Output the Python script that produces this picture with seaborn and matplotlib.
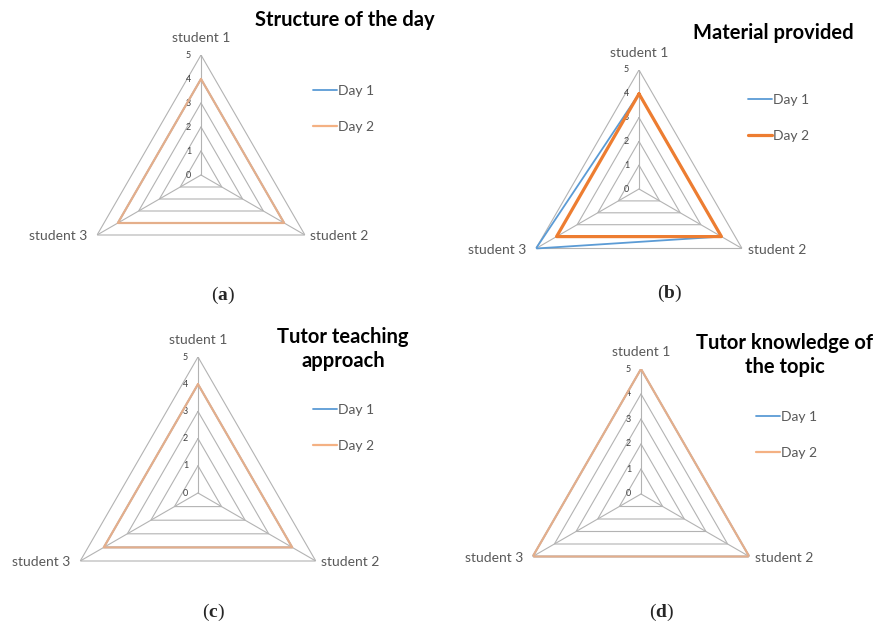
import numpy as np
import pandas as pd
import seaborn as sns
import matplotlib.pyplot as plt
from matplotlib.lines import Line2D

# Data -
students = ["student 1", "student 2", "student 3"]
days = ["Day 1", "Day 2"]
ticks = [0, 1, 2, 3, 4, 5]

titles = ["Structure of the day", "Material provided",
          "Tutor teaching\napproach", "Tutor knowledge of\nthe topic"]
captions = ["a", "b", "c", "d"]

day1_scores = [[4, 4, 4], [4, 4, 5], [4, 4, 4], [5, 5, 5]]
day2_scores = [[4, 4, 4], [4, 4, 4], [4, 4, 4], [5, 5, 5]]

# Layout (pixels: centre x, centre y, radius)
W, H = 878, 623
panels = [(201, 175, 120), (639, 189, 119), (198, 493, 136), (641, 494, 125)]
title_pos = [(345, 20), (773, 33), (343, 349), (785, 355)]
legend_pos = [(306, 109), (741, 118), (306, 428), (749, 435)]
caption_pos = [(223, 295), (670, 293), (213, 612), (662, 612)]

blue = "#5B9BD5"
orange_light = "#F4B183"
orange_dark = "#ED7D31"
day2_colors = [orange_light, orange_dark, orange_light, orange_light]
day2_widths = [1.6, 2.3, 1.6, 1.6]
grid_color = "#B3B3B3"
text_color = "#595959"

sns.set_theme(style="white")
plt.rcParams['font.family'] = ['Lato', 'DejaVu Sans']
plt.rcParams['mathtext.fontset'] = 'custom'
plt.rcParams['mathtext.rm'] = 'Liberation Serif'
plt.rcParams['mathtext.bf'] = 'Liberation Serif:bold'

fig = plt.figure(figsize=(W / 100, H / 100), dpi=100)

angles = np.linspace(0, 2 * np.pi, len(students), endpoint=False)
closed = np.append(angles, angles[0])

for i in range(4):
    cx, cy, R = panels[i]
    ax = fig.add_axes([(cx - R) / W, (H - cy - R) / H, 2 * R / W, 2 * R / H],
                      projection="polar")
    ax.set_theta_zero_location("N")
    ax.set_theta_direction(-1)
    ax.set_ylim(0, 5)
    ax.set_axis_off()

    # triangle grid and spokes
    for t in ticks[1:]:
        ax.plot(closed, [t] * len(closed), color=grid_color, lw=0.8, zorder=1)
    for a in angles:
        ax.plot([a, a], [0, 5], color=grid_color, lw=0.8, zorder=1)
    for t in ticks:
        ax.annotate(str(t), (0, t), xytext=(-9, 0), textcoords="offset points",
                    ha="center", va="center", fontsize=6.5, color="#404040")

    # series
    df = pd.DataFrame({
        "theta": np.concatenate([closed, closed]),
        "score": day1_scores[i] + day1_scores[i][:1] + day2_scores[i] + day2_scores[i][:1],
        "day": ["Day 1"] * 4 + ["Day 2"] * 4,
    })
    sns.lineplot(data=df[df["day"] == "Day 1"], x="theta", y="score", sort=False,
                 estimator=None, color=blue, lw=1.3, ax=ax, legend=False, zorder=3)
    sns.lineplot(data=df[df["day"] == "Day 2"], x="theta", y="score", sort=False,
                 estimator=None, color=day2_colors[i], lw=day2_widths[i], ax=ax,
                 legend=False, zorder=4, alpha=0.9 if i != 1 else 1)
    ax.set_xlabel("")
    ax.set_ylabel("")

    # category labels
    ax.annotate(students[0], (angles[0], 5), xytext=(0, 12), textcoords="offset points",
                ha="center", va="center", fontsize=10, color=text_color)
    ax.annotate(students[1], (angles[1], 5), xytext=(4, -1), textcoords="offset points",
                ha="left", va="center", fontsize=10, color=text_color)
    ax.annotate(students[2], (angles[2], 5), xytext=(-7, -1), textcoords="offset points",
                ha="right", va="center", fontsize=10, color=text_color)

    # legend
    handles = [Line2D([], [], color=blue, lw=1.3),
               Line2D([], [], color=day2_colors[i], lw=day2_widths[i])]
    lx, ly = legend_pos[i]
    ax.legend(handles, days, loc="center left", bbox_to_anchor=(lx / W, 1 - ly / H),
              bbox_transform=fig.transFigure, frameon=False, fontsize=10,
              handlelength=1.7, handletextpad=0.1, labelspacing=1.75,
              borderpad=0, labelcolor=text_color)

    tx, ty = title_pos[i]
    fig.text(tx / W, 1 - ty / H, titles[i], ha="center", va="center",
             fontsize=14.5, fontweight="bold", color="black", linespacing=1.2)

    px, py = caption_pos[i]
    fig.text(px / W, 1 - py / H, r"$\mathrm{(}\mathbf{" + captions[i] + r"}\mathrm{)}$",
             ha="center", va="center", fontsize=14)

fig.savefig("out.png", dpi=100)
